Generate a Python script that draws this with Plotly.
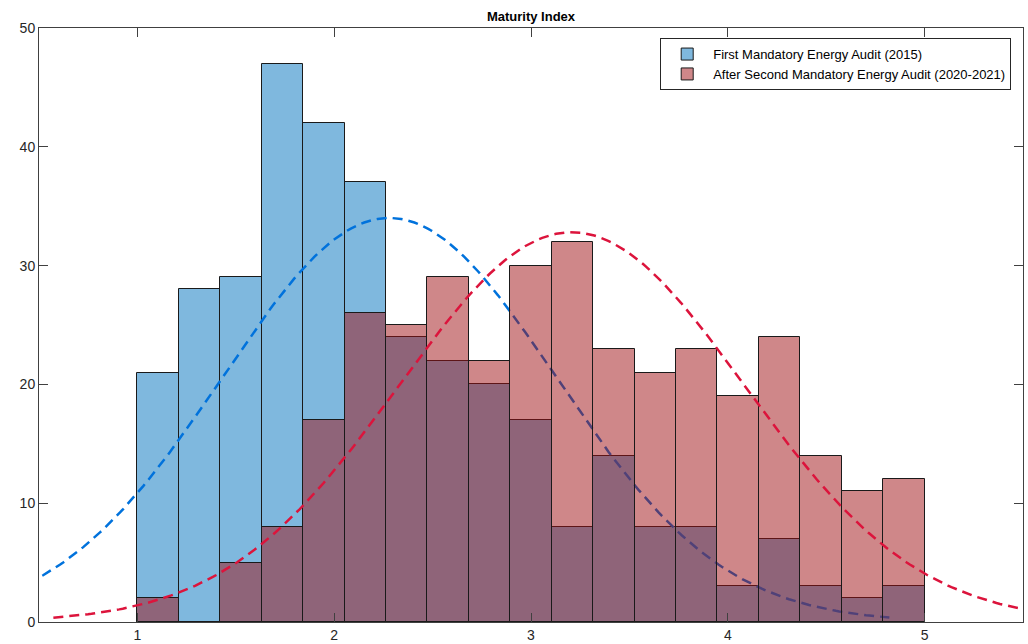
import numpy as np
import plotly.graph_objects as go

# ---- data ----
bin_min = 1.0
bin_max = 5.0
n_bins = 19
first_counts = [21, 28, 29, 47, 42, 37, 24, 22, 20, 17, 8, 14, 8, 8, 3, 7, 3, 2, 3]
second_counts = [2, 0, 5, 8, 17, 26, 25, 29, 22, 30, 32, 23, 21, 23, 19, 24, 14, 11, 12]
first_label = "First Mandatory Energy Audit (2015)"
second_label = "After Second Mandatory Energy Audit (2020-2021)"
first_mu, first_sigma = 2.28, 0.847     # fitted normal (histfit)
second_mu, second_sigma = 3.207, 0.878
x_ticks = [1, 2, 3, 4, 5]
y_ticks = [0, 10, 20, 30, 40, 50]
title_text = "Maturity Index"

edges = np.linspace(bin_min, bin_max, n_bins + 1)
centers = (edges[:-1] + edges[1:]) / 2
bw = edges[1] - edges[0]


def fit_curve(counts, mu, sigma):
    n = sum(counts)
    xs = np.linspace(mu - 3 * sigma, mu + 3 * sigma, 300)
    ys = n * bw * np.exp(-0.5 * ((xs - mu) / sigma) ** 2) / (sigma * np.sqrt(2 * np.pi))
    return xs, ys


fx, fy = fit_curve(first_counts, first_mu, first_sigma)
sx, sy = fit_curve(second_counts, second_mu, second_sigma)

fig = go.Figure()
fig.add_trace(go.Bar(x=centers, y=first_counts, width=bw, name=first_label,
                     marker=dict(color="rgba(0,114,189,0.5)", line=dict(color="#1a1a1a", width=1)),
                     xaxis="x", yaxis="y"))
fig.add_trace(go.Scatter(x=fx, y=fy, mode="lines", showlegend=False,
                         line=dict(color="rgb(0,114,220)", width=2.5, dash="10px,6px"),
                         xaxis="x", yaxis="y"))
fig.add_trace(go.Bar(x=centers, y=second_counts, width=bw, name=second_label,
                     marker=dict(color="rgba(160,15,20,0.5)", line=dict(color="#1a1a1a", width=1)),
                     xaxis="x2", yaxis="y2"))
fig.add_trace(go.Scatter(x=sx, y=sy, mode="lines", showlegend=False,
                         line=dict(color="rgb(220,20,60)", width=2.5, dash="10px,6px"),
                         xaxis="x2", yaxis="y2"))

axis_common = dict(showline=True, linecolor="#404040", linewidth=1, mirror="ticks",
                   ticks="inside", ticklen=9, tickcolor="#404040", showgrid=False,
                   zeroline=False, tickfont=dict(size=14, color="#262626"))

fig.update_layout(
    width=1028, height=644,
    margin=dict(l=39, r=5, t=28, b=22),
    paper_bgcolor="white", plot_bgcolor="white",
    font=dict(family="Liberation Sans, Arial, sans-serif", color="#262626"),
    barmode="overlay", bargap=0,
    title=dict(text="<b>" + title_text + "</b>", x=0.5, xref="paper", xanchor="center",
               y=1 - 16 / 644, yref="container", yanchor="middle",
               font=dict(size=13, color="#000000")),
    xaxis=dict(range=[0.5, 5.5], tickvals=x_ticks, ticklabelstandoff=0,
               automargin=False, **axis_common),
    yaxis=dict(range=[0, 50], tickvals=y_ticks, automargin=False, **axis_common),
    xaxis2=dict(range=[0.5, 5.5], overlaying="x", visible=False, anchor="y2"),
    yaxis2=dict(range=[0, 50], overlaying="y", visible=False, anchor="x2"),
    legend=dict(x=0.988, y=0.983, xanchor="right", yanchor="top",
                bgcolor="white", bordercolor="#262626", borderwidth=1,
                itemwidth=42,
                font=dict(size=13, color="#000000"), tracegroupgap=0),
    showlegend=True,
)

fig.write_html("out.html")
